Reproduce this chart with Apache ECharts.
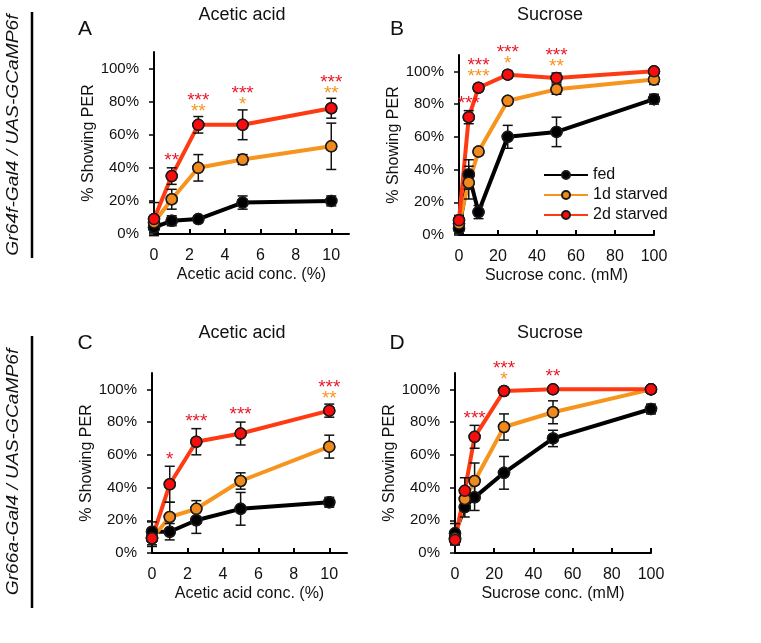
<!DOCTYPE html>
<html>
<head>
<meta charset="utf-8">
<script src="https://cdn.jsdelivr.net/npm/echarts@6/dist/echarts.min.js"></script>
<style>
  html, body { margin: 0; padding: 0; background: #fff; }
  #chart { width: 761px; height: 643px; }
</style>
</head>
<body>
<div id="chart"></div>
<script>
// concentrations (x values)
const aceticConc = [0, 1, 2.5, 5, 10];
const sucroseConc = [0, 5, 10, 25, 50, 100];
const groupNames = ['fed', '1d starved', '2d starved'];

// A: Gr64f, acetic acid
const aFed = [4, 8, 9, 19, 20];
const aFedErr = [3, 3, 2, 4, 3];
const a1d = [7, 21, 40, 45, 53];
const a1dErr = [4, 6, 8, 3, 14];
const a2d = [9, 35, 66, 66, 76];
const a2dErr = [10, 5, 5, 9, 6];
const aStars2d = ['', '**', '***', '***', '***'];
const aStars1d = ['', '', '**', '*', '**'];

// B: Gr64f, sucrose
const bFed = [4, 37, 14, 60, 63, 83];
const bFedErr = [3, 9, 4, 7, 9, 3];
const b1d = [7, 32, 51, 82, 89, 95];
const b1dErr = [3, 10, 2, 2, 3, 3];
const b2d = [9, 72, 90, 98, 96, 100];
const b2dErr = [3, 4, 2, 2, 3, 1];
const bStars2d = ['', '***', '***', '***', '***', ''];
const bStars1d = ['', '', '***', '*', '**', ''];

// C: Gr66a, acetic acid
const cFed = [13, 13, 20, 27, 31];
const cFedErr = [6, 5, 8, 10, 3];
const c1d = [9, 22, 27, 44, 65];
const c1dErr = [5, 9, 5, 5, 7];
const c2d = [9, 42, 68, 73, 87];
const c2dErr = [4, 11, 8, 7, 4];
const cStars2d = ['', '*', '***', '***', '***'];
const cStars1d = ['', '', '', '', '**'];

// D: Gr66a, sucrose
const dFed = [12, 28, 34, 49, 70, 88];
const dFedErr = [6, 6, 8, 10, 5, 3];
const d1d = [9, 33, 44, 77, 86, 100];
const d1dErr = [4, 6, 11, 8, 7, 1];
const d2d = [8, 38, 71, 99, 100, 100];
const d2dErr = [3, 8, 7, 2, 0, 0];
const dStars2d = ['', '', '***', '***', '**', ''];
const dStars1d = ['', '', '', '*', '', ''];

const acidTicks = [0, 2, 4, 6, 8, 10];
const sucroseTicks = [0, 20, 40, 60, 80, 100];
const percentTicks = [0, 20, 40, 60, 80, 100];

const FONT = '"Liberation Sans", Arial, sans-serif';
const lineColors = ['#000000', '#f7941d', '#ff3a12'];
const fillColors = ['#000000', '#f08a1c', '#f70d0d'];
const starColors = { red: '#e8182a', orange: '#f7931e' };

const panels = [
  { x: aceticConc, vals: [aFed, a1d, a2d], errs: [aFedErr, a1dErr, a2dErr], stars: [aStars2d, aStars1d],
    xmax: 11, ticks: acidTicks, xname: 'Acetic acid conc. (%)' },
  { x: sucroseConc, vals: [bFed, b1d, b2d], errs: [bFedErr, b1dErr, b2dErr], stars: [bStars2d, bStars1d],
    xmax: 100, ticks: sucroseTicks, xname: 'Sucrose conc. (mM)' },
  { x: aceticConc, vals: [cFed, c1d, c2d], errs: [cFedErr, c1dErr, c2dErr], stars: [cStars2d, cStars1d],
    xmax: 11, ticks: acidTicks, xname: 'Acetic acid conc. (%)' },
  { x: sucroseConc, vals: [dFed, d1d, d2d], errs: [dFedErr, d1dErr, d2dErr], stars: [dStars2d, dStars1d],
    xmax: 100, ticks: sucroseTicks, xname: 'Sucrose conc. (mM)' }
];

const grids = [
  { left: 154, top: 52, width: 195, height: 182 },
  { left: 459, top: 55, width: 195, height: 180 },
  { left: 152, top: 373, width: 195, height: 180 },
  { left: 455, top: 373, width: 196, height: 180 }
];

const chart = echarts.init(document.getElementById('chart'));

function errorBar(params, api) {
  const x = api.value(0), y = api.value(1), e = api.value(2);
  if (!e) return null;
  const hi = api.coord([x, y + e]);
  const lo = api.coord([x, y - e]);
  const w = 5;
  const st = { stroke: '#111', lineWidth: 1.5 };
  return {
    type: 'group',
    children: [
      { type: 'line', shape: { x1: hi[0], y1: hi[1], x2: lo[0], y2: lo[1] }, style: st },
      { type: 'line', shape: { x1: hi[0] - w, y1: hi[1], x2: hi[0] + w, y2: hi[1] }, style: st },
      { type: 'line', shape: { x1: lo[0] - w, y1: lo[1], x2: lo[0] + w, y2: lo[1] }, style: st }
    ]
  };
}

const series = [];
const xAxes = [], yAxes = [];

panels.forEach((p, pi) => {
  xAxes.push({
    type: 'value', gridIndex: pi, min: 0, max: p.xmax,
    name: p.xname, nameLocation: 'middle', nameGap: 33,
    nameTextStyle: { fontSize: 16, color: '#111', fontFamily: FONT },
    axisLine: { lineStyle: { color: '#000', width: 2 } },
    axisTick: { show: true, inside: true, length: 5, lineStyle: { color: '#000', width: 2 }, customValues: p.ticks },
    axisLabel: { fontSize: 16, color: '#111', fontFamily: FONT, margin: 14, customValues: p.ticks },
    splitLine: { show: false }
  });
  yAxes.push({
    type: 'value', gridIndex: pi, min: 0, max: 110,
    name: '% Showing PER', nameLocation: 'middle', nameGap: 56,
    nameTextStyle: { fontSize: 16, color: '#111', fontFamily: FONT },
    axisLine: { show: true, lineStyle: { color: '#000', width: 2 } },
    axisTick: { show: true, length: 5, lineStyle: { color: '#000', width: 1.5 }, customValues: percentTicks },
    axisLabel: { fontSize: 15, color: '#111', fontFamily: FONT, margin: 15, formatter: '{value}%', customValues: percentTicks },
    splitLine: { show: false }
  });

  // lines (with markers so the legend shows line + dot)
  p.vals.forEach((vals, g) => {
    series.push({
      type: 'line', name: groupNames[g], xAxisIndex: pi, yAxisIndex: pi,
      data: p.x.map((x, i) => [x, vals[i]]),
      symbol: 'circle', symbolSize: 11,
      itemStyle: { color: fillColors[g], borderColor: '#1a1a1a', borderWidth: 1.5 },
      lineStyle: { color: lineColors[g], width: 4 },
      z: 2, silent: true, animation: false
    });
  });
  // error bars
  p.vals.forEach((vals, g) => {
    series.push({
      type: 'custom', name: 'err' + g, xAxisIndex: pi, yAxisIndex: pi,
      data: p.x.map((x, i) => [x, vals[i], p.errs[g][i]]),
      encode: { x: 0, y: 1 },
      renderItem: errorBar, clip: false,
      z: 3, silent: true, animation: false
    });
  });
  // markers on top of the error bars
  p.vals.forEach((vals, g) => {
    series.push({
      type: 'scatter', name: 'pt' + g, xAxisIndex: pi, yAxisIndex: pi,
      data: p.x.map((x, i) => [x, vals[i]]),
      symbol: 'circle', symbolSize: 11,
      itemStyle: { color: fillColors[g], borderColor: '#1a1a1a', borderWidth: 1.5, opacity: 1 },
      z: 4, silent: true, animation: false
    });
  });
  // significance stars above the highest point
  const red = p.vals[2], redErr = p.errs[2];
  series.push({
    type: 'custom', name: 'stars', xAxisIndex: pi, yAxisIndex: pi,
    data: p.x.map((x, i) => [x, red[i], redErr[i]]),
    encode: { x: 0, y: 1 },
    clip: false, z: 5, silent: true, animation: false,
    renderItem: (params, api) => {
      const i = params.dataIndex;
      const s2 = p.stars[0][i], s1 = p.stars[1][i];
      if (!s2 && !s1) return null;
      const x = api.value(0), y = api.value(1), e = api.value(2);
      const top = Math.min(api.coord([x, y + e])[1], api.coord([x, y])[1] - 6);
      const px = api.coord([x, y])[0];
      const kids = [];
      const mk = (txt, yy, c) => ({
        type: 'text', x: px, y: yy,
        style: { text: txt, fill: c, fontSize: 19, fontFamily: FONT, align: 'center', verticalAlign: 'middle' }
      });
      if (s1) {
        kids.push(mk(s1, top - 10 + 5, starColors.orange));
        if (s2) kids.push(mk(s2, top - 21 + 5, starColors.red));
      } else {
        kids.push(mk(s2, top - 12 + 5, starColors.red));
      }
      return { type: 'group', children: kids };
    }
  });
});

const titleStyle = (t, x, y) => ({
  type: 'text', x: x, y: y,
  style: { text: t, fill: '#111', fontSize: 18, fontFamily: FONT, align: 'center', verticalAlign: 'middle' }
});
const letter = (t, x, y) => ({
  type: 'text', x: x, y: y,
  style: { text: t, fill: '#111', fontSize: 21, fontFamily: FONT, align: 'center', verticalAlign: 'middle' }
});
const sideLabel = (t, y) => ({
  type: 'text', x: 13, y: y, rotation: Math.PI / 2, scaleX: 1.13,
  style: { text: t, fill: '#111', fontSize: 17, fontStyle: 'italic', fontFamily: FONT, align: 'center', verticalAlign: 'middle' }
});

const option = {
  backgroundColor: '#fff',
  animation: false,
  grid: grids,
  xAxis: xAxes,
  yAxis: yAxes,
  legend: {
    data: groupNames, orient: 'vertical', left: 538, top: 162,
    itemWidth: 44, itemHeight: 10, itemGap: 4,
    textStyle: { fontSize: 16, color: '#111', fontFamily: FONT },
    selectedMode: false
  },
  graphic: [
    titleStyle('Acetic acid', 242, 15),
    titleStyle('Sucrose', 550, 15),
    titleStyle('Acetic acid', 242, 333),
    titleStyle('Sucrose', 550, 333),
    letter('A', 85, 29),
    letter('B', 397, 29),
    letter('C', 85, 343),
    letter('D', 397, 343),
    sideLabel('Gr64f-Gal4 / UAS-GCaMP6f', 135),
    sideLabel('Gr66a-Gal4 / UAS-GCaMP6f', 472),
    { type: 'line', shape: { x1: 32, y1: 12, x2: 32, y2: 258 }, style: { stroke: '#000', lineWidth: 2.5 } },
    { type: 'line', shape: { x1: 32, y1: 336, x2: 32, y2: 608 }, style: { stroke: '#000', lineWidth: 2.5 } }
  ],
  series: series
};

chart.setOption(option);
</script>
</body>
</html>
